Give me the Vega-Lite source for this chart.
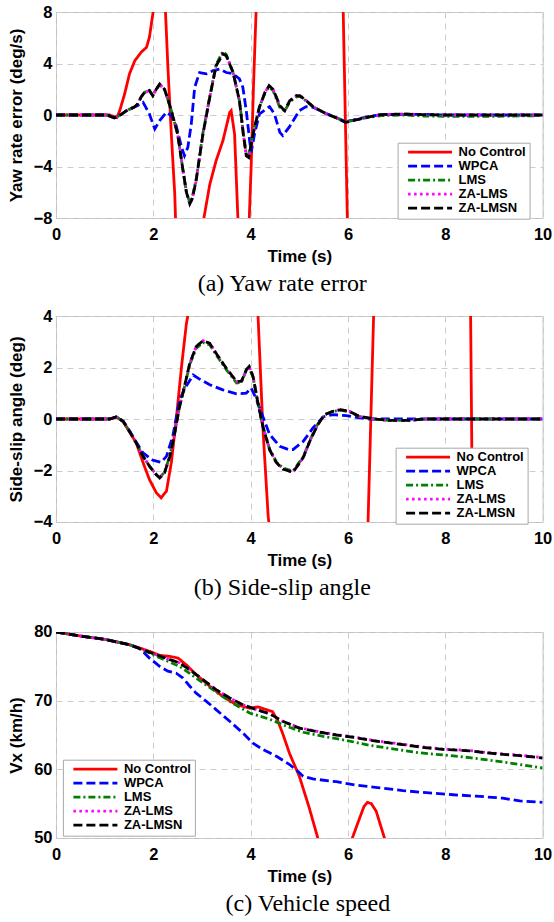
{
  "$schema": "https://vega.github.io/schema/vega-lite/v6.json",
  "padding": {"left": 6, "top": 3, "right": 2, "bottom": 2},
  "background": "white",
  "datasets": {
    "yaw": [
      {"s":"No Control","t":0,"v":0},{"s":"No Control","t":1.1,"v":0},{"s":"No Control","t":1.25,"v":-0.2},{"s":"No Control","t":1.31,"v":0.34},{"s":"No Control","t":1.41,"v":1.63},{"s":"No Control","t":1.51,"v":3.19},{"s":"No Control","t":1.62,"v":4.22},{"s":"No Control","t":1.75,"v":4.87},{"s":"No Control","t":1.86,"v":5.26},{"s":"No Control","t":1.92,"v":6.04},{"s":"No Control","t":1.99,"v":7.85},{"s":"No Control","t":2.03,"v":8.9},{"s":"No Control","t":2.08,"v":12},{"s":"No Control","t":2.2,"v":12},{"s":"No Control","t":2.24,"v":8.9},{"s":"No Control","t":2.27,"v":6.3},{"s":"No Control","t":2.3,"v":3.7},{"s":"No Control","t":2.37,"v":-1.48},{"s":"No Control","t":2.44,"v":-6.1},{"s":"No Control","t":2.46,"v":-8.5},{"s":"No Control","t":2.55,"v":-12},{"s":"No Control","t":2.95,"v":-12},{"s":"No Control","t":3.03,"v":-8.2},{"s":"No Control","t":3.16,"v":-5.4},{"s":"No Control","t":3.29,"v":-3.55},{"s":"No Control","t":3.43,"v":-2.0},{"s":"No Control","t":3.57,"v":0.2},{"s":"No Control","t":3.6,"v":0.34},{"s":"No Control","t":3.67,"v":-1.48},{"s":"No Control","t":3.74,"v":-8.2},{"s":"No Control","t":3.8,"v":-12},{"s":"No Control","t":3.92,"v":-12},{"s":"No Control","t":3.97,"v":-8.2},{"s":"No Control","t":4.01,"v":-4.07},{"s":"No Control","t":4.06,"v":2.4},{"s":"No Control","t":4.12,"v":8.9},{"s":"No Control","t":4.2,"v":12},{"s":"No Control","t":5.8,"v":12},{"s":"No Control","t":5.9,"v":8.5},{"s":"No Control","t":5.99,"v":-8.5},{"s":"No Control","t":6.1,"v":-12},{"s":"No Control","t":10,"v":-12},
      {"s":"WPCA","t":0,"v":0},{"s":"WPCA","t":1.05,"v":0},{"s":"WPCA","t":1.2,"v":-0.2},{"s":"WPCA","t":1.3,"v":-0.05},{"s":"WPCA","t":1.45,"v":0.34},{"s":"WPCA","t":1.68,"v":0.73},{"s":"WPCA","t":1.79,"v":0.98},{"s":"WPCA","t":1.92,"v":0.08},{"s":"WPCA","t":2.03,"v":-1.09},{"s":"WPCA","t":2.13,"v":-0.44},{"s":"WPCA","t":2.27,"v":0.2},{"s":"WPCA","t":2.37,"v":-0.05},{"s":"WPCA","t":2.47,"v":-0.83},{"s":"WPCA","t":2.58,"v":-2.5},{"s":"WPCA","t":2.64,"v":-3.16},{"s":"WPCA","t":2.71,"v":-2.5},{"s":"WPCA","t":2.78,"v":-0.7},{"s":"WPCA","t":2.85,"v":2.15},{"s":"WPCA","t":2.95,"v":3.3},{"s":"WPCA","t":3.09,"v":3.2},{"s":"WPCA","t":3.23,"v":3.45},{"s":"WPCA","t":3.36,"v":3.57},{"s":"WPCA","t":3.5,"v":3.3},{"s":"WPCA","t":3.64,"v":3.2},{"s":"WPCA","t":3.77,"v":2.8},{"s":"WPCA","t":3.84,"v":2.15},{"s":"WPCA","t":3.91,"v":0.34},{"s":"WPCA","t":3.98,"v":-2.0},{"s":"WPCA","t":4.01,"v":-2.9},{"s":"WPCA","t":4.08,"v":-1.48},{"s":"WPCA","t":4.18,"v":0.08},{"s":"WPCA","t":4.39,"v":0.65},{"s":"WPCA","t":4.49,"v":0.08},{"s":"WPCA","t":4.6,"v":-1.35},{"s":"WPCA","t":4.66,"v":-1.6},{"s":"WPCA","t":4.8,"v":-0.9},{"s":"WPCA","t":5.0,"v":0.34},{"s":"WPCA","t":5.14,"v":0.65},{"s":"WPCA","t":5.28,"v":0.6},{"s":"WPCA","t":5.4,"v":0.4},{"s":"WPCA","t":5.55,"v":0.12},{"s":"WPCA","t":5.75,"v":-0.2},{"s":"WPCA","t":5.95,"v":-0.5},{"s":"WPCA","t":6.1,"v":-0.4},{"s":"WPCA","t":6.39,"v":-0.15},{"s":"WPCA","t":6.68,"v":0.03},{"s":"WPCA","t":7.56,"v":0.05},{"s":"WPCA","t":8,"v":0},{"s":"WPCA","t":10,"v":0},
      {"s":"LMS","t":0,"v":0},{"s":"LMS","t":1.05,"v":0},{"s":"LMS","t":1.2,"v":-0.23},{"s":"LMS","t":1.3,"v":-0.05},{"s":"LMS","t":1.45,"v":0.34},{"s":"LMS","t":1.6,"v":0.6},{"s":"LMS","t":1.68,"v":0.85},{"s":"LMS","t":1.75,"v":1.4},{"s":"LMS","t":1.82,"v":1.76},{"s":"LMS","t":1.92,"v":1.9},{"s":"LMS","t":1.99,"v":1.5},{"s":"LMS","t":2.06,"v":2.0},{"s":"LMS","t":2.13,"v":2.35},{"s":"LMS","t":2.23,"v":2.0},{"s":"LMS","t":2.3,"v":1.2},{"s":"LMS","t":2.37,"v":0.34},{"s":"LMS","t":2.5,"v":-1.48},{"s":"LMS","t":2.61,"v":-4.3},{"s":"LMS","t":2.68,"v":-6.0},{"s":"LMS","t":2.75,"v":-6.8},{"s":"LMS","t":2.8,"v":-6.4},{"s":"LMS","t":2.88,"v":-5.0},{"s":"LMS","t":3.02,"v":-1.4},{"s":"LMS","t":3.16,"v":1.45},{"s":"LMS","t":3.29,"v":3.9},{"s":"LMS","t":3.43,"v":4.95},{"s":"LMS","t":3.5,"v":4.7},{"s":"LMS","t":3.64,"v":3.3},{"s":"LMS","t":3.77,"v":1.1},{"s":"LMS","t":3.85,"v":-1.4},{"s":"LMS","t":3.91,"v":-3.0},{"s":"LMS","t":3.96,"v":-3.1},{"s":"LMS","t":4.05,"v":-1.4},{"s":"LMS","t":4.18,"v":0.6},{"s":"LMS","t":4.3,"v":1.8},{"s":"LMS","t":4.38,"v":2.15},{"s":"LMS","t":4.46,"v":1.9},{"s":"LMS","t":4.6,"v":0.6},{"s":"LMS","t":4.7,"v":0.3},{"s":"LMS","t":4.8,"v":1.0},{"s":"LMS","t":4.94,"v":1.4},{"s":"LMS","t":5.01,"v":1.45},{"s":"LMS","t":5.12,"v":1.15},{"s":"LMS","t":5.28,"v":0.65},{"s":"LMS","t":5.55,"v":0.1},{"s":"LMS","t":5.75,"v":-0.2},{"s":"LMS","t":5.95,"v":-0.55},{"s":"LMS","t":6.1,"v":-0.42},{"s":"LMS","t":6.39,"v":-0.2},{"s":"LMS","t":6.68,"v":-0.05},{"s":"LMS","t":7.13,"v":0},{"s":"LMS","t":7.56,"v":-0.08},{"s":"LMS","t":8,"v":-0.1},{"s":"LMS","t":9,"v":-0.1},{"s":"LMS","t":10,"v":-0.05},
      {"s":"ZA-LMS","t":0,"v":0},{"s":"ZA-LMS","t":1.05,"v":0},{"s":"ZA-LMS","t":1.2,"v":-0.23},{"s":"ZA-LMS","t":1.3,"v":-0.05},{"s":"ZA-LMS","t":1.45,"v":0.34},{"s":"ZA-LMS","t":1.6,"v":0.6},{"s":"ZA-LMS","t":1.68,"v":0.85},{"s":"ZA-LMS","t":1.75,"v":1.4},{"s":"ZA-LMS","t":1.82,"v":1.76},{"s":"ZA-LMS","t":1.92,"v":1.9},{"s":"ZA-LMS","t":1.99,"v":1.5},{"s":"ZA-LMS","t":2.06,"v":2.0},{"s":"ZA-LMS","t":2.13,"v":2.4},{"s":"ZA-LMS","t":2.23,"v":2.0},{"s":"ZA-LMS","t":2.3,"v":1.2},{"s":"ZA-LMS","t":2.37,"v":0.34},{"s":"ZA-LMS","t":2.5,"v":-1.48},{"s":"ZA-LMS","t":2.61,"v":-4.3},{"s":"ZA-LMS","t":2.68,"v":-6.0},{"s":"ZA-LMS","t":2.75,"v":-6.9},{"s":"ZA-LMS","t":2.8,"v":-6.5},{"s":"ZA-LMS","t":2.88,"v":-5.1},{"s":"ZA-LMS","t":3.02,"v":-1.48},{"s":"ZA-LMS","t":3.16,"v":1.37},{"s":"ZA-LMS","t":3.29,"v":3.83},{"s":"ZA-LMS","t":3.43,"v":4.74},{"s":"ZA-LMS","t":3.5,"v":4.6},{"s":"ZA-LMS","t":3.64,"v":3.3},{"s":"ZA-LMS","t":3.77,"v":1.1},{"s":"ZA-LMS","t":3.85,"v":-1.5},{"s":"ZA-LMS","t":3.91,"v":-3.16},{"s":"ZA-LMS","t":3.96,"v":-3.3},{"s":"ZA-LMS","t":4.05,"v":-1.48},{"s":"ZA-LMS","t":4.18,"v":0.6},{"s":"ZA-LMS","t":4.3,"v":1.8},{"s":"ZA-LMS","t":4.38,"v":2.28},{"s":"ZA-LMS","t":4.46,"v":2.0},{"s":"ZA-LMS","t":4.6,"v":0.73},{"s":"ZA-LMS","t":4.7,"v":0.34},{"s":"ZA-LMS","t":4.8,"v":1.1},{"s":"ZA-LMS","t":4.94,"v":1.5},{"s":"ZA-LMS","t":5.01,"v":1.5},{"s":"ZA-LMS","t":5.12,"v":1.2},{"s":"ZA-LMS","t":5.28,"v":0.65},{"s":"ZA-LMS","t":5.55,"v":0.1},{"s":"ZA-LMS","t":5.75,"v":-0.2},{"s":"ZA-LMS","t":5.95,"v":-0.57},{"s":"ZA-LMS","t":6.1,"v":-0.44},{"s":"ZA-LMS","t":6.39,"v":-0.18},{"s":"ZA-LMS","t":6.68,"v":0.03},{"s":"ZA-LMS","t":7.13,"v":0.08},{"s":"ZA-LMS","t":7.56,"v":0.03},{"s":"ZA-LMS","t":8,"v":0},{"s":"ZA-LMS","t":10,"v":0},
      {"s":"ZA-LMSN","t":0,"v":0},{"s":"ZA-LMSN","t":1.05,"v":0},{"s":"ZA-LMSN","t":1.2,"v":-0.23},{"s":"ZA-LMSN","t":1.3,"v":-0.05},{"s":"ZA-LMSN","t":1.45,"v":0.34},{"s":"ZA-LMSN","t":1.6,"v":0.6},{"s":"ZA-LMSN","t":1.68,"v":0.85},{"s":"ZA-LMSN","t":1.75,"v":1.4},{"s":"ZA-LMSN","t":1.82,"v":1.76},{"s":"ZA-LMSN","t":1.92,"v":1.9},{"s":"ZA-LMSN","t":1.99,"v":1.5},{"s":"ZA-LMSN","t":2.06,"v":2.0},{"s":"ZA-LMSN","t":2.13,"v":2.4},{"s":"ZA-LMSN","t":2.23,"v":2.0},{"s":"ZA-LMSN","t":2.3,"v":1.2},{"s":"ZA-LMSN","t":2.37,"v":0.34},{"s":"ZA-LMSN","t":2.5,"v":-1.48},{"s":"ZA-LMSN","t":2.61,"v":-4.3},{"s":"ZA-LMSN","t":2.68,"v":-6.0},{"s":"ZA-LMSN","t":2.75,"v":-6.9},{"s":"ZA-LMSN","t":2.8,"v":-6.5},{"s":"ZA-LMSN","t":2.88,"v":-5.1},{"s":"ZA-LMSN","t":3.02,"v":-1.48},{"s":"ZA-LMSN","t":3.16,"v":1.37},{"s":"ZA-LMSN","t":3.29,"v":3.83},{"s":"ZA-LMSN","t":3.43,"v":4.74},{"s":"ZA-LMSN","t":3.5,"v":4.6},{"s":"ZA-LMSN","t":3.64,"v":3.3},{"s":"ZA-LMSN","t":3.77,"v":1.1},{"s":"ZA-LMSN","t":3.85,"v":-1.5},{"s":"ZA-LMSN","t":3.91,"v":-3.16},{"s":"ZA-LMSN","t":3.96,"v":-3.3},{"s":"ZA-LMSN","t":4.05,"v":-1.48},{"s":"ZA-LMSN","t":4.18,"v":0.6},{"s":"ZA-LMSN","t":4.3,"v":1.8},{"s":"ZA-LMSN","t":4.38,"v":2.28},{"s":"ZA-LMSN","t":4.46,"v":2.0},{"s":"ZA-LMSN","t":4.6,"v":0.73},{"s":"ZA-LMSN","t":4.7,"v":0.34},{"s":"ZA-LMSN","t":4.8,"v":1.1},{"s":"ZA-LMSN","t":4.94,"v":1.5},{"s":"ZA-LMSN","t":5.01,"v":1.5},{"s":"ZA-LMSN","t":5.12,"v":1.2},{"s":"ZA-LMSN","t":5.28,"v":0.65},{"s":"ZA-LMSN","t":5.55,"v":0.1},{"s":"ZA-LMSN","t":5.75,"v":-0.2},{"s":"ZA-LMSN","t":5.95,"v":-0.57},{"s":"ZA-LMSN","t":6.1,"v":-0.44},{"s":"ZA-LMSN","t":6.39,"v":-0.18},{"s":"ZA-LMSN","t":6.68,"v":0.03},{"s":"ZA-LMSN","t":7.13,"v":0.08},{"s":"ZA-LMSN","t":7.56,"v":0.03},{"s":"ZA-LMSN","t":8,"v":0},{"s":"ZA-LMSN","t":10,"v":0}
    ],
    "slip": [
      {"s":"No Control","t":0,"v":0},{"s":"No Control","t":1.1,"v":0},{"s":"No Control","t":1.24,"v":0.08},{"s":"No Control","t":1.38,"v":-0.1},{"s":"No Control","t":1.51,"v":-0.5},{"s":"No Control","t":1.65,"v":-0.93},{"s":"No Control","t":1.79,"v":-1.7},{"s":"No Control","t":1.92,"v":-2.35},{"s":"No Control","t":2.06,"v":-2.86},{"s":"No Control","t":2.16,"v":-3.06},{"s":"No Control","t":2.27,"v":-2.8},{"s":"No Control","t":2.37,"v":-1.7},{"s":"No Control","t":2.47,"v":-0.03},{"s":"No Control","t":2.58,"v":2.04},{"s":"No Control","t":2.68,"v":3.71},{"s":"No Control","t":2.73,"v":4.23},{"s":"No Control","t":2.8,"v":6},{"s":"No Control","t":4.1,"v":6},{"s":"No Control","t":4.15,"v":4.1},{"s":"No Control","t":4.25,"v":-0.28},{"s":"No Control","t":4.36,"v":-3.77},{"s":"No Control","t":4.39,"v":-4.3},{"s":"No Control","t":4.45,"v":-6},{"s":"No Control","t":6.35,"v":-6},{"s":"No Control","t":6.41,"v":-4.2},{"s":"No Control","t":6.53,"v":4.2},{"s":"No Control","t":6.6,"v":6},{"s":"No Control","t":8.45,"v":6},{"s":"No Control","t":8.52,"v":4.2},{"s":"No Control","t":8.56,"v":-4.2},{"s":"No Control","t":8.65,"v":-6},{"s":"No Control","t":10,"v":-6},
      {"s":"WPCA","t":0,"v":0},{"s":"WPCA","t":1.1,"v":0},{"s":"WPCA","t":1.24,"v":0.08},{"s":"WPCA","t":1.38,"v":-0.09},{"s":"WPCA","t":1.51,"v":-0.45},{"s":"WPCA","t":1.65,"v":-0.9},{"s":"WPCA","t":1.79,"v":-1.32},{"s":"WPCA","t":1.99,"v":-1.6},{"s":"WPCA","t":2.16,"v":-1.68},{"s":"WPCA","t":2.27,"v":-1.45},{"s":"WPCA","t":2.4,"v":-0.67},{"s":"WPCA","t":2.54,"v":0.75},{"s":"WPCA","t":2.67,"v":1.26},{"s":"WPCA","t":2.82,"v":1.71},{"s":"WPCA","t":2.95,"v":1.55},{"s":"WPCA","t":3.16,"v":1.33},{"s":"WPCA","t":3.43,"v":1.13},{"s":"WPCA","t":3.71,"v":0.98},{"s":"WPCA","t":3.91,"v":1.0},{"s":"WPCA","t":4.01,"v":1.2},{"s":"WPCA","t":4.11,"v":0.81},{"s":"WPCA","t":4.25,"v":0.1},{"s":"WPCA","t":4.39,"v":-0.6},{"s":"WPCA","t":4.6,"v":-1.06},{"s":"WPCA","t":4.8,"v":-1.2},{"s":"WPCA","t":4.87,"v":-1.19},{"s":"WPCA","t":5.08,"v":-0.87},{"s":"WPCA","t":5.28,"v":-0.35},{"s":"WPCA","t":5.49,"v":0.08},{"s":"WPCA","t":5.69,"v":0.17},{"s":"WPCA","t":5.97,"v":0.13},{"s":"WPCA","t":6.24,"v":0.04},{"s":"WPCA","t":6.45,"v":0},{"s":"WPCA","t":10,"v":0},
      {"s":"LMS","t":0,"v":0},{"s":"LMS","t":1.1,"v":0},{"s":"LMS","t":1.24,"v":0.08},{"s":"LMS","t":1.38,"v":-0.09},{"s":"LMS","t":1.51,"v":-0.48},{"s":"LMS","t":1.65,"v":-0.93},{"s":"LMS","t":1.79,"v":-1.45},{"s":"LMS","t":1.92,"v":-1.83},{"s":"LMS","t":2.06,"v":-2.16},{"s":"LMS","t":2.13,"v":-2.27},{"s":"LMS","t":2.23,"v":-2.07},{"s":"LMS","t":2.34,"v":-1.43},{"s":"LMS","t":2.44,"v":-0.52},{"s":"LMS","t":2.54,"v":0.49},{"s":"LMS","t":2.64,"v":1.25},{"s":"LMS","t":2.75,"v":2.12},{"s":"LMS","t":2.88,"v":2.74},{"s":"LMS","t":3.02,"v":2.97},{"s":"LMS","t":3.16,"v":2.88},{"s":"LMS","t":3.29,"v":2.5},{"s":"LMS","t":3.5,"v":1.92},{"s":"LMS","t":3.71,"v":1.4},{"s":"LMS","t":3.81,"v":1.42},{"s":"LMS","t":3.91,"v":1.88},{"s":"LMS","t":3.97,"v":2.0},{"s":"LMS","t":4.05,"v":1.62},{"s":"LMS","t":4.15,"v":0.6},{"s":"LMS","t":4.25,"v":-0.28},{"s":"LMS","t":4.39,"v":-1.17},{"s":"LMS","t":4.53,"v":-1.67},{"s":"LMS","t":4.66,"v":-1.9},{"s":"LMS","t":4.8,"v":-1.98},{"s":"LMS","t":4.87,"v":-2.02},{"s":"LMS","t":5.08,"v":-1.47},{"s":"LMS","t":5.23,"v":-0.78},{"s":"LMS","t":5.38,"v":-0.2},{"s":"LMS","t":5.52,"v":0.17},{"s":"LMS","t":5.69,"v":0.29},{"s":"LMS","t":5.85,"v":0.34},{"s":"LMS","t":6.03,"v":0.28},{"s":"LMS","t":6.24,"v":0.09},{"s":"LMS","t":6.54,"v":0},{"s":"LMS","t":6.83,"v":-0.05},{"s":"LMS","t":7.27,"v":-0.05},{"s":"LMS","t":7.6,"v":0},{"s":"LMS","t":10,"v":0},
      {"s":"ZA-LMS","t":0,"v":0},{"s":"ZA-LMS","t":1.1,"v":0},{"s":"ZA-LMS","t":1.24,"v":0.08},{"s":"ZA-LMS","t":1.38,"v":-0.09},{"s":"ZA-LMS","t":1.51,"v":-0.48},{"s":"ZA-LMS","t":1.65,"v":-0.93},{"s":"ZA-LMS","t":1.79,"v":-1.45},{"s":"ZA-LMS","t":1.92,"v":-1.83},{"s":"ZA-LMS","t":2.06,"v":-2.16},{"s":"ZA-LMS","t":2.13,"v":-2.29},{"s":"ZA-LMS","t":2.23,"v":-2.09},{"s":"ZA-LMS","t":2.34,"v":-1.45},{"s":"ZA-LMS","t":2.44,"v":-0.54},{"s":"ZA-LMS","t":2.54,"v":0.49},{"s":"ZA-LMS","t":2.64,"v":1.26},{"s":"ZA-LMS","t":2.75,"v":2.17},{"s":"ZA-LMS","t":2.88,"v":2.81},{"s":"ZA-LMS","t":3.02,"v":3.04},{"s":"ZA-LMS","t":3.16,"v":2.94},{"s":"ZA-LMS","t":3.29,"v":2.55},{"s":"ZA-LMS","t":3.5,"v":1.97},{"s":"ZA-LMS","t":3.71,"v":1.46},{"s":"ZA-LMS","t":3.81,"v":1.46},{"s":"ZA-LMS","t":3.91,"v":1.91},{"s":"ZA-LMS","t":3.97,"v":2.04},{"s":"ZA-LMS","t":4.05,"v":1.65},{"s":"ZA-LMS","t":4.15,"v":0.62},{"s":"ZA-LMS","t":4.25,"v":-0.28},{"s":"ZA-LMS","t":4.39,"v":-1.19},{"s":"ZA-LMS","t":4.53,"v":-1.7},{"s":"ZA-LMS","t":4.66,"v":-1.94},{"s":"ZA-LMS","t":4.8,"v":-2.03},{"s":"ZA-LMS","t":4.87,"v":-2.07},{"s":"ZA-LMS","t":5.08,"v":-1.5},{"s":"ZA-LMS","t":5.23,"v":-0.8},{"s":"ZA-LMS","t":5.38,"v":-0.22},{"s":"ZA-LMS","t":5.52,"v":0.17},{"s":"ZA-LMS","t":5.69,"v":0.3},{"s":"ZA-LMS","t":5.85,"v":0.36},{"s":"ZA-LMS","t":6.03,"v":0.3},{"s":"ZA-LMS","t":6.24,"v":0.1},{"s":"ZA-LMS","t":6.54,"v":0},{"s":"ZA-LMS","t":6.83,"v":-0.05},{"s":"ZA-LMS","t":7.27,"v":-0.05},{"s":"ZA-LMS","t":7.6,"v":0},{"s":"ZA-LMS","t":10,"v":0},
      {"s":"ZA-LMSN","t":0,"v":0},{"s":"ZA-LMSN","t":1.1,"v":0},{"s":"ZA-LMSN","t":1.24,"v":0.08},{"s":"ZA-LMSN","t":1.38,"v":-0.09},{"s":"ZA-LMSN","t":1.51,"v":-0.48},{"s":"ZA-LMSN","t":1.65,"v":-0.93},{"s":"ZA-LMSN","t":1.79,"v":-1.45},{"s":"ZA-LMSN","t":1.92,"v":-1.83},{"s":"ZA-LMSN","t":2.06,"v":-2.16},{"s":"ZA-LMSN","t":2.13,"v":-2.29},{"s":"ZA-LMSN","t":2.23,"v":-2.09},{"s":"ZA-LMSN","t":2.34,"v":-1.45},{"s":"ZA-LMSN","t":2.44,"v":-0.54},{"s":"ZA-LMSN","t":2.54,"v":0.49},{"s":"ZA-LMSN","t":2.64,"v":1.26},{"s":"ZA-LMSN","t":2.75,"v":2.17},{"s":"ZA-LMSN","t":2.88,"v":2.81},{"s":"ZA-LMSN","t":3.02,"v":3.04},{"s":"ZA-LMSN","t":3.16,"v":2.94},{"s":"ZA-LMSN","t":3.29,"v":2.55},{"s":"ZA-LMSN","t":3.5,"v":1.97},{"s":"ZA-LMSN","t":3.71,"v":1.46},{"s":"ZA-LMSN","t":3.81,"v":1.46},{"s":"ZA-LMSN","t":3.91,"v":1.91},{"s":"ZA-LMSN","t":3.97,"v":2.04},{"s":"ZA-LMSN","t":4.05,"v":1.65},{"s":"ZA-LMSN","t":4.15,"v":0.62},{"s":"ZA-LMSN","t":4.25,"v":-0.28},{"s":"ZA-LMSN","t":4.39,"v":-1.19},{"s":"ZA-LMSN","t":4.53,"v":-1.7},{"s":"ZA-LMSN","t":4.66,"v":-1.94},{"s":"ZA-LMSN","t":4.8,"v":-2.03},{"s":"ZA-LMSN","t":4.87,"v":-2.07},{"s":"ZA-LMSN","t":5.08,"v":-1.5},{"s":"ZA-LMSN","t":5.23,"v":-0.8},{"s":"ZA-LMSN","t":5.38,"v":-0.22},{"s":"ZA-LMSN","t":5.52,"v":0.17},{"s":"ZA-LMSN","t":5.69,"v":0.3},{"s":"ZA-LMSN","t":5.85,"v":0.36},{"s":"ZA-LMSN","t":6.03,"v":0.3},{"s":"ZA-LMSN","t":6.24,"v":0.1},{"s":"ZA-LMSN","t":6.54,"v":0},{"s":"ZA-LMSN","t":6.83,"v":-0.05},{"s":"ZA-LMSN","t":7.27,"v":-0.05},{"s":"ZA-LMSN","t":7.6,"v":0},{"s":"ZA-LMSN","t":10,"v":0}
    ],
    "speed": [
      {"s":"No Control","t":0,"v":80},{"s":"No Control","t":0.55,"v":79.36},{"s":"No Control","t":1.03,"v":78.9},{"s":"No Control","t":1.51,"v":78.15},{"s":"No Control","t":1.79,"v":77.5},{"s":"No Control","t":1.92,"v":77.2},{"s":"No Control","t":2.13,"v":76.6},{"s":"No Control","t":2.34,"v":76.45},{"s":"No Control","t":2.51,"v":76.2},{"s":"No Control","t":2.68,"v":75.2},{"s":"No Control","t":2.88,"v":73.8},{"s":"No Control","t":3.16,"v":72.1},{"s":"No Control","t":3.43,"v":70.6},{"s":"No Control","t":3.71,"v":69.4},{"s":"No Control","t":3.98,"v":68.9},{"s":"No Control","t":4.15,"v":69.1},{"s":"No Control","t":4.32,"v":68.7},{"s":"No Control","t":4.45,"v":68.4},{"s":"No Control","t":4.55,"v":67.2},{"s":"No Control","t":4.66,"v":65.2},{"s":"No Control","t":4.8,"v":62.3},{"s":"No Control","t":5.0,"v":59.0},{"s":"No Control","t":5.2,"v":54.5},{"s":"No Control","t":5.38,"v":50},{"s":"No Control","t":5.45,"v":48.5},{"s":"No Control","t":6.0,"v":48.5},{"s":"No Control","t":6.09,"v":50},{"s":"No Control","t":6.24,"v":52.9},{"s":"No Control","t":6.33,"v":54.6},{"s":"No Control","t":6.4,"v":55.2},{"s":"No Control","t":6.48,"v":55.0},{"s":"No Control","t":6.58,"v":53.9},{"s":"No Control","t":6.75,"v":50},{"s":"No Control","t":6.8,"v":48.5},{"s":"No Control","t":10,"v":48.5},
      {"s":"WPCA","t":0,"v":80},{"s":"WPCA","t":0.55,"v":79.36},{"s":"WPCA","t":1.03,"v":78.9},{"s":"WPCA","t":1.51,"v":78.15},{"s":"WPCA","t":1.6,"v":77.9},{"s":"WPCA","t":1.72,"v":77.6},{"s":"WPCA","t":1.92,"v":76.2},{"s":"WPCA","t":2.13,"v":75},{"s":"WPCA","t":2.3,"v":74.3},{"s":"WPCA","t":2.47,"v":74},{"s":"WPCA","t":2.61,"v":73.3},{"s":"WPCA","t":2.75,"v":72.1},{"s":"WPCA","t":2.88,"v":71.1},{"s":"WPCA","t":3.09,"v":69.9},{"s":"WPCA","t":3.29,"v":68.7},{"s":"WPCA","t":3.57,"v":67},{"s":"WPCA","t":3.84,"v":65.3},{"s":"WPCA","t":4.05,"v":63.8},{"s":"WPCA","t":4.25,"v":62.9},{"s":"WPCA","t":4.53,"v":61.9},{"s":"WPCA","t":4.8,"v":60.7},{"s":"WPCA","t":4.97,"v":59.7},{"s":"WPCA","t":5.08,"v":59},{"s":"WPCA","t":5.28,"v":58.6},{"s":"WPCA","t":5.76,"v":58.2},{"s":"WPCA","t":6.17,"v":57.7},{"s":"WPCA","t":6.65,"v":57.3},{"s":"WPCA","t":7.13,"v":56.9},{"s":"WPCA","t":7.61,"v":56.6},{"s":"WPCA","t":8.16,"v":56.3},{"s":"WPCA","t":8.63,"v":56.1},{"s":"WPCA","t":9.18,"v":55.8},{"s":"WPCA","t":9.53,"v":55.4},{"s":"WPCA","t":10,"v":55.2},
      {"s":"LMS","t":0,"v":80},{"s":"LMS","t":0.55,"v":79.36},{"s":"LMS","t":1.03,"v":78.9},{"s":"LMS","t":1.51,"v":78.15},{"s":"LMS","t":1.79,"v":77.4},{"s":"LMS","t":2.06,"v":76.45},{"s":"LMS","t":2.54,"v":75},{"s":"LMS","t":3.02,"v":72.6},{"s":"LMS","t":3.57,"v":69.9},{"s":"LMS","t":3.98,"v":68.2},{"s":"LMS","t":4.39,"v":67.3},{"s":"LMS","t":4.73,"v":66.3},{"s":"LMS","t":5.08,"v":65.4},{"s":"LMS","t":5.49,"v":64.8},{"s":"LMS","t":5.97,"v":64.2},{"s":"LMS","t":6.45,"v":63.5},{"s":"LMS","t":6.99,"v":62.9},{"s":"LMS","t":7.47,"v":62.4},{"s":"LMS","t":7.95,"v":62.1},{"s":"LMS","t":8.5,"v":61.7},{"s":"LMS","t":9.05,"v":61.2},{"s":"LMS","t":9.53,"v":60.7},{"s":"LMS","t":10,"v":60.2},
      {"s":"ZA-LMS","t":0,"v":80},{"s":"ZA-LMS","t":0.55,"v":79.36},{"s":"ZA-LMS","t":1.03,"v":78.9},{"s":"ZA-LMS","t":1.51,"v":78.15},{"s":"ZA-LMS","t":1.79,"v":77.4},{"s":"ZA-LMS","t":2.06,"v":76.7},{"s":"ZA-LMS","t":2.34,"v":75.97},{"s":"ZA-LMS","t":2.54,"v":75.5},{"s":"ZA-LMS","t":2.75,"v":74.5},{"s":"ZA-LMS","t":3.02,"v":73.05},{"s":"ZA-LMS","t":3.29,"v":71.6},{"s":"ZA-LMS","t":3.57,"v":70.4},{"s":"ZA-LMS","t":3.84,"v":69.4},{"s":"ZA-LMS","t":4.12,"v":68.7},{"s":"ZA-LMS","t":4.39,"v":68.1},{"s":"ZA-LMS","t":4.66,"v":67},{"s":"ZA-LMS","t":5.0,"v":66.05},{"s":"ZA-LMS","t":5.42,"v":65.45},{"s":"ZA-LMS","t":5.76,"v":65.05},{"s":"ZA-LMS","t":6.17,"v":64.65},{"s":"ZA-LMS","t":6.58,"v":64.15},{"s":"ZA-LMS","t":7.13,"v":63.65},{"s":"ZA-LMS","t":7.54,"v":63.25},{"s":"ZA-LMS","t":7.95,"v":62.95},{"s":"ZA-LMS","t":8.5,"v":62.75},{"s":"ZA-LMS","t":8.84,"v":62.45},{"s":"ZA-LMS","t":9.32,"v":62.15},{"s":"ZA-LMS","t":9.53,"v":62.05},{"s":"ZA-LMS","t":10,"v":61.7},
      {"s":"ZA-LMSN","t":0,"v":80},{"s":"ZA-LMSN","t":0.55,"v":79.36},{"s":"ZA-LMSN","t":1.03,"v":78.9},{"s":"ZA-LMSN","t":1.51,"v":78.15},{"s":"ZA-LMSN","t":1.79,"v":77.4},{"s":"ZA-LMSN","t":2.06,"v":76.7},{"s":"ZA-LMSN","t":2.34,"v":75.97},{"s":"ZA-LMSN","t":2.54,"v":75.5},{"s":"ZA-LMSN","t":2.75,"v":74.5},{"s":"ZA-LMSN","t":3.02,"v":73.05},{"s":"ZA-LMSN","t":3.29,"v":71.6},{"s":"ZA-LMSN","t":3.57,"v":70.4},{"s":"ZA-LMSN","t":3.84,"v":69.4},{"s":"ZA-LMSN","t":4.12,"v":68.7},{"s":"ZA-LMSN","t":4.39,"v":68.1},{"s":"ZA-LMSN","t":4.66,"v":67},{"s":"ZA-LMSN","t":5.0,"v":66},{"s":"ZA-LMSN","t":5.42,"v":65.4},{"s":"ZA-LMSN","t":5.76,"v":65},{"s":"ZA-LMSN","t":6.17,"v":64.6},{"s":"ZA-LMSN","t":6.58,"v":64.1},{"s":"ZA-LMSN","t":7.13,"v":63.6},{"s":"ZA-LMSN","t":7.54,"v":63.2},{"s":"ZA-LMSN","t":7.95,"v":62.9},{"s":"ZA-LMSN","t":8.5,"v":62.7},{"s":"ZA-LMSN","t":8.84,"v":62.4},{"s":"ZA-LMSN","t":9.32,"v":62.1},{"s":"ZA-LMSN","t":9.53,"v":62.0},{"s":"ZA-LMSN","t":10,"v":61.65}
    ]
  },
  "spacing": 10,
  "resolve": {"scale": {"color": "independent", "strokeDash": "independent"}, "legend": {"color": "independent", "strokeDash": "independent"}},
  "vconcat": [
    {
      "width": 486.6, "height": 206,
      "data": {"name": "yaw"},
      "title": {"text": "(a) Yaw rate error", "orient": "bottom", "anchor": "middle", "dx": -17, "offset": 8, "font": "Liberation Serif", "fontSize": 24, "fontWeight": "normal", "color": "#000"},
      "mark": {"type": "line", "clip": true, "strokeWidth": 2.8},
      "encoding": {
        "x": {"field": "t", "type": "quantitative", "scale": {"domain": [0, 10], "nice": false}, "axis": {"values": [0, 2, 4, 6, 8, 10], "title": "Time (s)"}},
        "y": {"field": "v", "type": "quantitative", "scale": {"domain": [-8, 8], "nice": false}, "axis": {"values": [-8, -4, 0, 4, 8], "title": "Yaw rate error (deg/s)"}},
        "color": {"field": "s", "type": "nominal", "scale": {"domain": ["No Control", "WPCA", "LMS", "ZA-LMS", "ZA-LMSN"], "range": ["#ff0000", "#0000ff", "#008000", "#ff00ff", "#000000"]}, "legend": {"orient": "none", "legendX": 341.6, "legendY": 130.7, "title": null}},
        "strokeDash": {"field": "s", "type": "nominal", "scale": {"domain": ["No Control", "WPCA", "LMS", "ZA-LMS", "ZA-LMSN"], "range": [[1, 0], [9, 4], [7, 3, 2, 3], [2.5, 3.5], [9, 4]]}, "legend": {"orient": "none", "legendX": 341.6, "legendY": 130.7, "title": null}}
      }
    },
    {
      "width": 486.6, "height": 206,
      "data": {"name": "slip"},
      "title": {"text": "(b) Side-slip angle", "subtitle": " ", "subtitleFontSize": 8, "subtitlePadding": 4, "orient": "bottom", "anchor": "middle", "dx": -17, "offset": 8, "font": "Liberation Serif", "subtitleFont": "Liberation Serif", "fontSize": 24, "fontWeight": "normal", "color": "#000"},
      "mark": {"type": "line", "clip": true, "strokeWidth": 2.8},
      "encoding": {
        "x": {"field": "t", "type": "quantitative", "scale": {"domain": [0, 10], "nice": false}, "axis": {"values": [0, 2, 4, 6, 8, 10], "title": "Time (s)"}},
        "y": {"field": "v", "type": "quantitative", "scale": {"domain": [-4, 4], "nice": false}, "axis": {"values": [-4, -2, 0, 2, 4], "title": "Side-slip angle (deg)"}},
        "color": {"field": "s", "type": "nominal", "scale": {"domain": ["No Control", "WPCA", "LMS", "ZA-LMS", "ZA-LMSN"], "range": ["#ff0000", "#0000ff", "#008000", "#ff00ff", "#000000"]}, "legend": {"orient": "none", "legendX": 339.6, "legendY": 131.7, "title": null}},
        "strokeDash": {"field": "s", "type": "nominal", "scale": {"domain": ["No Control", "WPCA", "LMS", "ZA-LMS", "ZA-LMSN"], "range": [[1, 0], [9, 4], [7, 3, 2, 3], [2.5, 3.5], [9, 4]]}, "legend": {"orient": "none", "legendX": 339.6, "legendY": 131.7, "title": null}}
      }
    },
    {
      "width": 486.6, "height": 206,
      "data": {"name": "speed"},
      "title": {"text": "(c) Vehicle speed", "orient": "bottom", "anchor": "middle", "dx": 8.6, "offset": 8, "font": "Liberation Serif", "fontSize": 24, "fontWeight": "normal", "color": "#000"},
      "mark": {"type": "line", "clip": true, "strokeWidth": 2.8},
      "encoding": {
        "x": {"field": "t", "type": "quantitative", "scale": {"domain": [0, 10], "nice": false}, "axis": {"values": [0, 2, 4, 6, 8, 10], "title": "Time (s)"}},
        "y": {"field": "v", "type": "quantitative", "scale": {"domain": [50, 80], "nice": false}, "axis": {"values": [50, 60, 70, 80], "title": "Vx (km/h)"}},
        "color": {"field": "s", "type": "nominal", "scale": {"domain": ["No Control", "WPCA", "LMS", "ZA-LMS", "ZA-LMSN"], "range": ["#ff0000", "#0000ff", "#008000", "#ff00ff", "#000000"]}, "legend": {"orient": "none", "legendX": 6.9, "legendY": 127.7, "title": null}},
        "strokeDash": {"field": "s", "type": "nominal", "scale": {"domain": ["No Control", "WPCA", "LMS", "ZA-LMS", "ZA-LMSN"], "range": [[1, 0], [9, 4], [7, 3, 2, 3], [2.5, 3.5], [9, 4]]}, "legend": {"orient": "none", "legendX": 6.9, "legendY": 127.7, "title": null}}
      }
    }
  ],
  "config": {
    "view": {"stroke": "#c0c0c0", "strokeWidth": 1},
    "axis": {"grid": true, "gridDash": [6, 5], "gridColor": "#cccccc", "gridWidth": 1, "domain": false, "ticks": false, "tickSize": 0, "labelFont": "Liberation Sans", "labelFontWeight": "bold", "labelFontSize": 16.5, "labelColor": "#000000", "titleFont": "Liberation Sans", "titleFontWeight": "bold", "titleFontSize": 17, "titleColor": "#000000", "labelFlush": false, "labelOverlap": false, "labelPadding": 4},
    "axisX": {"labelPadding": 8.8, "titlePadding": 5},
    "axisY": {"titlePadding": 8},
    "legend": {"symbolType": "stroke", "symbolSize": 1936, "symbolStrokeWidth": 2.8, "labelFont": "Liberation Sans", "labelFontWeight": "bold", "labelFontSize": 13, "labelColor": "#000000", "fillColor": "#ffffff", "strokeColor": "#a8a8a8", "padding": 3, "rowPadding": -2.3, "clipHeight": 13, "labelOffset": 5, "symbolOffset": 6}
  }
}
